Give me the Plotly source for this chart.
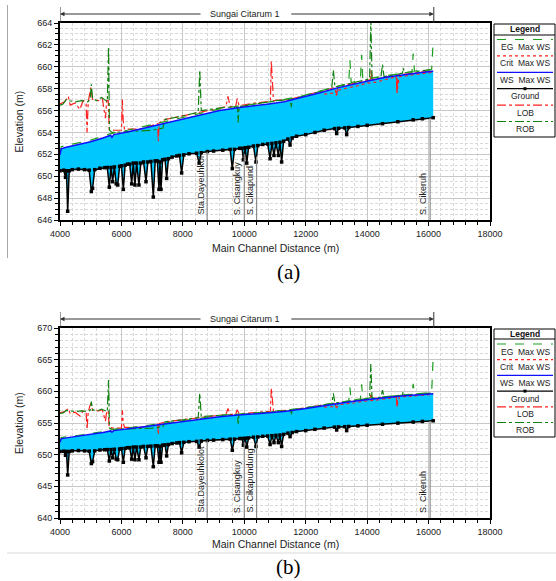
import numpy as np
import plotly.graph_objects as go

# ---------------- data ----------------
ground_dist = [4000, 4120, 4180, 4210, 4250, 4300, 4400, 4600, 4800, 4950, 5020, 5060, 5130,
               5300, 5450, 5540, 5606, 5660, 5714, 5770, 5830, 5880, 5940, 6000, 6062, 6120,
               6200, 6270, 6334, 6385, 6440, 6495, 6570, 6630, 6720, 6800, 6860, 6960, 7038,
               7100, 7170, 7223, 7255, 7288, 7340, 7420, 7472, 7530, 7650, 7800, 7890, 7960,
               8030, 8200, 8450, 8530, 8600, 8800, 9000, 9300, 9540, 9610, 9680, 9850, 9930,
               9970, 10030, 10080, 10140, 10300, 10380, 10440, 10600, 10760, 10840, 10900,
               10967, 11030, 11110, 11160, 11216, 11280, 11420, 11490, 11560, 11700, 12000,
               12300, 12600, 12940, 13008, 13070, 13270, 13333, 13400, 13700, 14000, 14500,
               15000, 15500, 15800, 16150]
ground_elev = [650.5, 650.55, 649.9, 650.5, 646.8, 650.5, 650.6, 650.65, 650.6, 650.55, 648.6,
               648.9, 650.6, 650.73, 650.78, 650.8, 649.0, 650.8, 649.5, 650.85, 649.3, 649.2,
               650.9, 650.95, 648.8, 651.0, 651.1, 651.1, 649.3, 651.2, 649.2, 651.2, 649.2,
               651.2, 651.3, 649.5, 651.3, 651.35, 648.1, 651.4, 651.4, 648.8, 651.3, 648.8,
               651.5, 651.55, 649.8, 651.6, 651.75, 651.85, 651.9, 650.3, 651.95, 652.05,
               652.1, 651.2, 652.15, 652.25, 652.3, 652.38, 652.45, 650.7, 652.45, 652.55,
               652.55, 651.5, 652.6, 651.2, 652.65, 652.76, 651.3, 652.8, 652.9, 652.95, 651.6,
               653.0, 651.9, 653.05, 651.9, 653.1, 651.3, 653.2, 653.4, 652.85, 653.5, 653.65,
               653.8, 654.0, 654.2, 654.35, 653.9, 654.38, 654.42, 653.8, 654.45, 654.55,
               654.65, 654.8, 654.98, 655.15, 655.25, 655.35]

ws_dist = [4000, 4040, 4200, 4600, 5000, 5400, 5650, 5690, 5750, 6200, 6800, 7400, 8000, 8600,
           9200, 9800, 10400, 10800, 11300, 11900, 12500, 13000, 13500, 14100, 14600, 15200,
           15700, 16150]
ws_elev = [651.95, 652.5, 652.65, 652.9, 653.15, 653.5, 653.75, 653.55, 653.8, 654.05, 654.45,
           654.85, 655.25, 655.65, 656.0, 656.25, 656.5, 656.6, 656.8, 657.2, 657.65, 658.05,
           658.4, 658.75, 659.05, 659.3, 659.45, 659.6]

eg_dist = [4000, 4040, 4600, 5000, 5400, 5650, 6200, 6800, 7400, 8000, 8600, 9200, 9800, 10400,
           11000, 11900, 12500, 13000, 13400, 13440, 13480, 13780, 13820, 13860, 14100, 14600,
           15200, 15460, 15500, 15540, 16100, 16150]
eg_elev = [652.1, 652.7, 653.05, 653.3, 653.65, 653.9, 654.2, 654.6, 655.0, 655.4, 655.8, 656.15,
           656.4, 656.65, 656.85, 657.35, 657.8, 658.2, 658.5, 660.6, 658.55, 658.8, 661.1,
           658.85, 658.95, 659.2, 659.45, 659.55, 661.2, 659.6, 659.75, 662.3]
eg_end_b = 665.5   # last EG value in panel (b)

crit_dist = [12600, 12900, 13000, 13100, 13600, 14000, 14300, 14600, 14950, 14970, 15050,
             15600, 16150]
crit_elev = [657.5, 657.6, 657.4, 657.9, 658.2, 658.5, 658.6, 658.8, 659.1, 657.7, 659.1,
             659.3, 659.5]

lob_dist = [4000, 4150, 4270, 4330, 4490, 4650, 4750, 4850, 4880, 4920, 5000, 5060, 5250, 5380,
            5420, 5480, 5520, 5570, 5600, 5750, 6000, 6030, 6060, 6100, 6600, 7100, 7180, 7200,
            7230, 7450, 8000, 8500, 9000, 9400, 9470, 9540, 9720, 9770, 9830, 10400, 10850,
            10880, 10920, 10950, 11500, 12000, 12500, 12950, 13000, 13050, 13600, 14100,
            14130, 14160, 14600, 14950, 14970, 15000, 15600, 16150]
lob_elev = [656.6, 656.8, 657.3, 656.5, 656.7, 656.1, 656.9, 656.7, 654.0, 656.8, 658.1, 657.0,
            656.9, 657.1, 656.3, 655.3, 656.9, 656.9, 654.3, 654.2, 654.2, 657.0, 655.0, 654.3,
            654.3, 654.7, 654.8, 653.2, 654.9, 655.2, 655.5, 655.8, 656.1, 656.35, 657.3,
            656.35, 656.4, 657.1, 656.45, 656.7, 656.85, 660.5, 658.7, 656.9, 657.05, 657.4,
            657.8, 658.1, 657.4, 658.2, 658.5, 658.8, 659.7, 658.85, 659.05, 659.2, 657.6,
            659.25, 659.45, 659.65]

rob_dist = [4000, 4100, 4200, 4300, 4500, 4700, 4900, 4980, 5020, 5060, 5200, 5350, 5450, 5540,
            5580, 5610, 5700, 6200, 7000, 7350, 7420, 8000, 8500, 8550, 8600, 9000, 9400, 9780,
            9800, 9830, 10400, 10800, 11000, 11500, 11530, 11560, 12300, 12850, 12900, 12950,
            13400, 14080, 14120, 14160, 14450, 14500, 14550, 15150, 15170, 15200, 16150]
rob_elev = [656.5, 656.6, 657.0, 656.9, 656.8, 656.9, 656.8, 657.0, 658.4, 657.1, 656.9, 657.2,
            657.0, 656.8, 661.8, 654.2, 654.0, 654.1, 654.2, 654.4, 655.2, 655.5, 655.85, 659.7,
            656.0, 656.15, 656.3, 656.3, 654.9, 656.35, 656.6, 656.75, 656.9, 657.0, 656.3,
            657.05, 657.6, 658.1, 659.7, 658.15, 658.45, 658.9, 664.3, 658.9, 659.1, 660.2,
            659.1, 659.4, 659.9, 659.45, 659.75]

station_dist = [8790, 10000, 10400, 16050]
station_names_a = ["Sta.Dayeuhkol", "S. Cisangkuy", "S. Cikapund", "S. Cikeruh"]
station_names_b = ["Sta.Dayeuhkolot", "S. Cisangkuy", "S. Cikapundung", "S. Cikeruh"]

reach_name = "Sungai Citarum 1"
reach_start, reach_end = 4000, 16170
x_ticks = [4000, 6000, 8000, 10000, 12000, 14000, 16000, 18000]

legend_items = ["EG\u00a0\u00a0Max\u00a0WS", "Crit\u00a0\u00a0Max\u00a0WS", "WS\u00a0\u00a0Max\u00a0WS",
                "Ground", "LOB", "ROB"]

# ---------------- styling / layout ----------------
W, H = 556, 581
FONT = "Liberation Sans, Arial, sans-serif"
FILL = "#00c8ff"
C_EG, C_CRIT, C_WS, C_GR, C_LOB, C_ROB = "#1e9e1e", "#ff2020", "#1010ff", "black", "#ff2020", "#108010"


def px(x):
    return x / W


def py(y):
    return 1 - y / H


fig = go.Figure()
shapes, annos = [], []

panels = [
    dict(sfx="", yr=[646, 664], dtick=2, minor=0.5, top=23, bot=220, eg_last=eg_elev[-1],
         names=station_names_a, caption="(a)", cap_y=272, xt_y=248,
         leg=dict(top=24, title=29, sep=35, s0=39.5, step=16.4, bot=137)),
    dict(sfx="2", yr=[640, 670], dtick=5, minor=1, top=328, bot=518, eg_last=eg_end_b,
         names=station_names_b, caption="(b)", cap_y=567, xt_y=544,
         leg=dict(top=329, title=334, sep=339, s0=344, step=15.7, bot=437)),
]


def note(text, x, y, size=9, angle=0, family=FONT, color="#222", xa="center", ya="middle"):
    return dict(text=text, x=px(x), xref="paper", y=py(y), yref="paper", showarrow=False,
                xanchor=xa, yanchor=ya, textangle=angle,
                font=dict(family=family, size=size, color=color))


for p in panels:
    xa, ya = "x" + p["sfx"], "y" + p["sfx"]
    eg_y = eg_elev[:-1] + [p["eg_last"]]
    # water fill between WS and ground
    fig.add_trace(go.Scatter(x=ws_dist + ground_dist[::-1], y=ws_elev + ground_elev[::-1],
                             fill="toself", fillcolor=FILL, mode="lines", line=dict(width=0),
                             xaxis=xa, yaxis=ya, hoverinfo="skip", showlegend=False))
    fig.add_trace(go.Scatter(x=crit_dist, y=crit_elev, mode="lines",
                             line=dict(color=C_CRIT, width=1.2, dash="dot"),
                             xaxis=xa, yaxis=ya, showlegend=False))
    fig.add_trace(go.Scatter(x=lob_dist, y=lob_elev, mode="lines",
                             line=dict(color=C_LOB, width=1.2, dash="dashdot"),
                             xaxis=xa, yaxis=ya, showlegend=False))
    fig.add_trace(go.Scatter(x=rob_dist, y=rob_elev, mode="lines",
                             line=dict(color=C_ROB, width=1.2, dash="dashdot"),
                             xaxis=xa, yaxis=ya, showlegend=False))
    fig.add_trace(go.Scatter(x=eg_dist, y=eg_y, mode="lines",
                             line=dict(color=C_EG, width=1.2, dash="dash"),
                             xaxis=xa, yaxis=ya, showlegend=False))
    fig.add_trace(go.Scatter(x=ws_dist, y=ws_elev, mode="lines",
                             line=dict(color=C_WS, width=1.5),
                             xaxis=xa, yaxis=ya, showlegend=False))
    fig.add_trace(go.Scatter(x=ground_dist, y=ground_elev, mode="lines+markers",
                             line=dict(color=C_GR, width=1.5),
                             marker=dict(symbol="square", size=3.5, color=C_GR),
                             xaxis=xa, yaxis=ya, showlegend=False))

    dom_y = [py(p["bot"]), py(p["top"])]
    axis_common = dict(showline=True, linewidth=2, linecolor="black", mirror=True,
                       showgrid=True, gridcolor="#c8c8c8", gridwidth=1, zeroline=False,
                       ticks="outside", ticklen=4, tickcolor="black", automargin=False,
                       tickfont=dict(family=FONT, size=9, color="#222"))
    minor_common = dict(showgrid=True, gridcolor="#d9d9d9", griddash="3px,2px", ticks="outside",
                        ticklen=3, tickcolor="black")
    fig.update_layout(**{
        "xaxis" + p["sfx"]: dict(domain=[px(60), px(490)], range=[4000, 18000],
                                 tickvals=x_ticks, tickformat="d", anchor=ya,
                                 minor=dict(dtick=400, tick0=4000, **minor_common),
                                 **axis_common),
        "yaxis" + p["sfx"]: dict(domain=dom_y, range=p["yr"], dtick=p["dtick"], tick0=p["yr"][0],
                                 tickformat="d", anchor=xa,
                                 minor=dict(dtick=p["minor"], tick0=p["yr"][0], **minor_common),
                                 **axis_common),
    })

    # station markers
    for sd, name in zip(station_dist, p["names"]):
        gy = float(np.interp(sd, ground_dist, ground_elev))
        shapes.append(dict(type="line", xref=xa, yref=ya, x0=sd, x1=sd, y0=p["yr"][0], y1=gy,
                           line=dict(color="#8c8c8c", width=1.2)))
        annos.append(dict(text=name, x=sd, xref=xa, xanchor="right", y=0, yref=ya + " domain",
                          yanchor="bottom", yshift=3, textangle=-90, showarrow=False,
                          font=dict(family=FONT, size=9, color="#222")))

    # reach header (arrows + name)
    ty = py(p["top"] - 9)
    annos.append(dict(text="", x=reach_start, xref=xa, y=ty, yref="paper", ax=142, ay=0,
                      showarrow=True, arrowhead=2, arrowsize=0.9, arrowwidth=1, arrowcolor="#333"))
    annos.append(dict(text="", x=reach_end, xref=xa, y=ty, yref="paper", ax=-144, ay=0,
                      showarrow=True, arrowhead=2, arrowsize=0.9, arrowwidth=1, arrowcolor="#333"))
    annos.append(note(reach_name, 245, p["top"] - 9))
    for rx in (reach_start, reach_end):
        shapes.append(dict(type="line", xref=xa, yref="paper", x0=rx, x1=rx,
                           y0=py(p["top"]), y1=py(p["top"] - 16), line=dict(color="#333", width=1)))

    # axis titles and caption
    annos.append(note("Elevation (m)", 19, (p["top"] + p["bot"]) / 2, size=10.5, angle=-90))
    annos.append(note("Main Channel Distance (m)", 275, p["xt_y"], size=10.5))
    annos.append(note(p["caption"], 288, p["cap_y"], size=21, family="Liberation Serif, serif",
                      color="black"))

    # custom legend box
    lg = p["leg"]
    shapes.append(dict(type="rect", xref="paper", yref="paper", x0=px(494), x1=px(555),
                       y0=py(lg["bot"]), y1=py(lg["top"]), line=dict(color="black", width=1)))
    shapes.append(dict(type="line", xref="paper", yref="paper", x0=px(494), x1=px(555),
                       y0=py(lg["sep"]), y1=py(lg["sep"]), line=dict(color="black", width=1)))
    annos.append(note("<b>Legend</b>", 525, lg["title"], size=8.5, color="#111"))
    styles = [(C_EG, "dash", 1.2), (C_CRIT, "dot", 1.2), (C_WS, "solid", 1.2),
              (C_GR, "solid", 1.2), (C_LOB, "dashdot", 1.2), (C_ROB, "dashdot", 1.2)]
    for i, (lab, (col, dash, wid)) in enumerate(zip(legend_items, styles)):
        sy = lg["s0"] + i * lg["step"]
        shapes.append(dict(type="line", xref="paper", yref="paper", x0=px(497), x1=px(553),
                           y0=py(sy), y1=py(sy), line=dict(color=col, width=wid, dash=dash)))
        if lab == "Ground":
            shapes.append(dict(type="rect", xref="paper", yref="paper", x0=px(523.5), x1=px(526.5),
                               y0=py(sy + 1.5), y1=py(sy - 1.5), fillcolor="black",
                               line=dict(width=0)))
        annos.append(note(lab, 525, sy + 7.5, size=8.5))

# page decoration lines
shapes.append(dict(type="line", xref="paper", yref="paper", x0=px(7.5), x1=px(7.5),
                   y0=py(258), y1=py(5), line=dict(color="#a8a8a8", width=1)))
shapes.append(dict(type="line", xref="paper", yref="paper", x0=px(7), x1=px(556),
                   y0=py(553), y1=py(553), line=dict(color="#d8d8d8", width=1)))

fig.update_layout(width=W, height=H, margin=dict(l=0, r=0, t=0, b=0),
                  paper_bgcolor="white", plot_bgcolor="white", showlegend=False,
                  shapes=shapes, annotations=annos, font=dict(family=FONT))

fig.write_html("out.html", config={"displayModeBar": False},
               post_script="document.body.style.margin='0';document.body.style.overflow='hidden';")
